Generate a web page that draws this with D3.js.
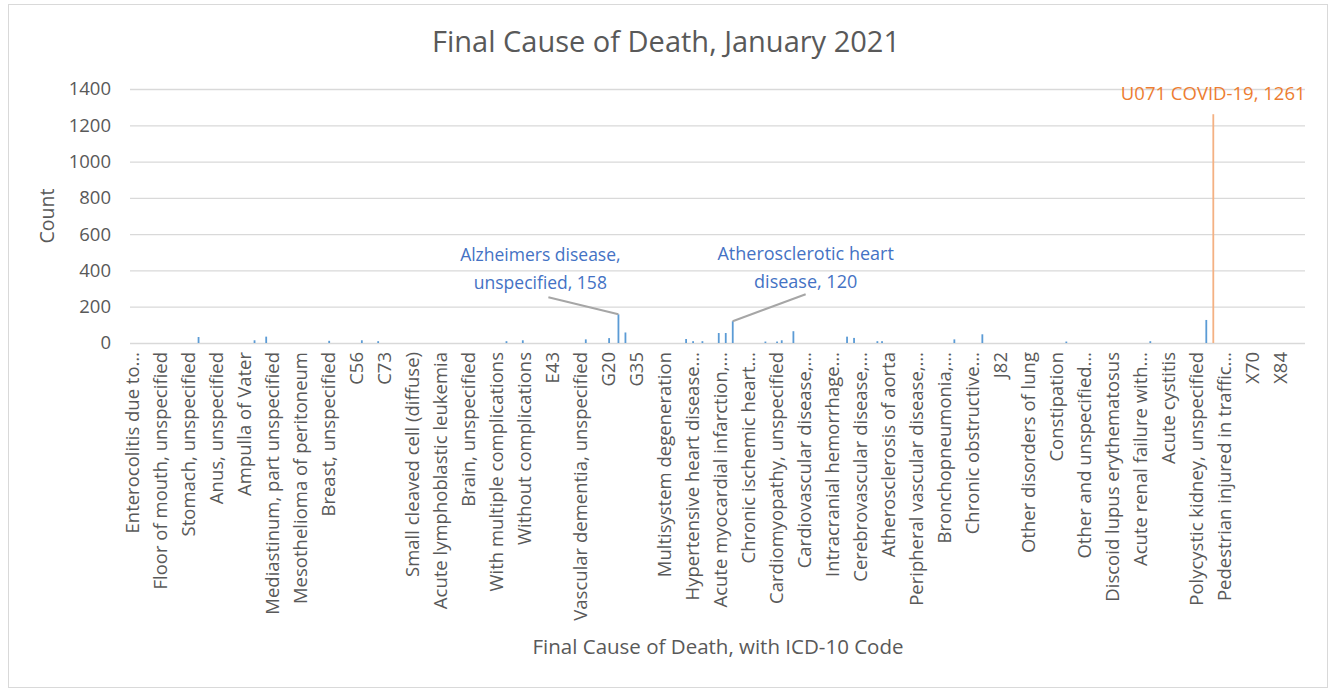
<!DOCTYPE html>
<html>
<head>
<meta charset="utf-8">
<script src="https://cdn.jsdelivr.net/npm/d3@7"></script>
<style>
  body { margin: 0; background: #fff; }
  text { font-family: "Open Sans", "Noto Sans", sans-serif; fill: #595959; }
</style>
</head>
<body>
<div id="chart"></div>
<script>
// Category axis: Excel shows only every 12th label
const categoryCount = 504;
const labelEvery = 12;
const tickLabels = [
  "Enterocolitis due to…", "Floor of mouth, unspecified", "Stomach, unspecified",
  "Anus, unspecified", "Ampulla of Vater", "Mediastinum, part unspecified",
  "Mesothelioma of peritoneum", "Breast, unspecified", "C56", "C73",
  "Small cleaved cell (diffuse)", "Acute lymphoblastic leukemia", "Brain, unspecified",
  "With multiple complications", "Without complications", "E43",
  "Vascular dementia, unspecified", "G20", "G35", "Multisystem degeneration",
  "Hypertensive heart disease…", "Acute myocardial infarction,…", "Chronic ischemic heart…",
  "Cardiomyopathy, unspecified", "Cardiovascular disease,…", "Intracranial hemorrhage…",
  "Cerebrovascular disease,…", "Atherosclerosis of aorta", "Peripheral vascular disease,…",
  "Bronchopneumonia,…", "Chronic obstructive…", "J82", "Other disorders of lung",
  "Constipation", "Other and unspecified…", "Discoid lupus erythematosus",
  "Acute renal failure with…", "Acute cystitis", "Polycystic kidney, unspecified",
  "Pedestrian injured in traffic…", "X70", "X84"
];

// Visible (non-negligible) counts: category index and count
const barIndex = [29, 53, 58, 85, 99, 106, 161, 168, 195, 205, 209, 212, 238, 241, 245,
  252, 255, 258, 272, 277, 279, 284, 307, 310, 320, 322, 353, 365, 401, 437, 461, 464];
const barCount = [33, 15, 35, 12, 15, 10, 10, 15, 20, 27, 158, 58, 22, 10, 10,
  55, 55, 120, 8, 8, 15, 65, 35, 28, 10, 10, 20, 48, 8, 10, 127, 1261];

const yTicks = [0, 200, 400, 600, 800, 1000, 1200, 1400];

// Annotated bars
const annotations = [
  { index: 209, lines: ["Alzheimers disease,", "unspecified, 158"] },
  { index: 258, lines: ["Atherosclerotic heart", "disease, 120"] },
  { index: 464, lines: ["U071 COVID-19, 1261"] }
];

const width = 1335, height = 692;
const margin = {top: 89, right: 30, bottom: 349, left: 130};
const plotW = width - margin.left - margin.right;
const plotH = height - margin.top - margin.bottom;

const svg = d3.select("#chart").append("svg")
  .attr("width", width)
  .attr("height", height);

svg.append("rect")
  .attr("x", 8.5).attr("y", 4.5)
  .attr("width", 1319).attr("height", 683)
  .attr("fill", "#fff")
  .attr("stroke", "#D9D9D9");

const g = svg.append("g").attr("transform", `translate(${margin.left},${margin.top})`);

const x = d3.scaleBand()
  .domain(d3.range(categoryCount))
  .range([0, plotW])
  .paddingInner(0.3);

const y = d3.scaleLinear().domain([0, 1400]).range([plotH, 0]);

// gridlines
g.selectAll(".grid")
  .data(yTicks)
  .join("line")
  .attr("x1", 0).attr("x2", plotW)
  .attr("y1", d => y(d) + 0.5).attr("y2", d => y(d) + 0.5)
  .attr("stroke", "#D9D9D9")
  .attr("stroke-width", 1.3);

// y tick labels
g.selectAll(".ytick")
  .data(yTicks)
  .join("text")
  .attr("x", -19)
  .attr("y", d => y(d))
  .attr("dy", "0.35em")
  .attr("text-anchor", "end")
  .style("font-size", "18.5px")
  .text(d => d);

// bars
const bars = barIndex.map((idx, i) => ({ idx, value: barCount[i] }));
g.selectAll(".bar")
  .data(bars)
  .join("rect")
  .attr("x", d => x(d.idx))
  .attr("width", Math.max(1.8, x.bandwidth()))
  .attr("y", d => y(d.value))
  .attr("height", d => plotH - y(d.value))
  .attr("fill", d => d.value > 1000 ? "#F4B183" : "#5B9BD5");

// x labels
g.selectAll(".xlabel")
  .data(tickLabels)
  .join("text")
  .attr("transform", (d, i) => `translate(${x(i * labelEvery) + x.bandwidth() / 2 + 2},${plotH + 9}) rotate(-90)`)
  .attr("dy", "0.35em")
  .attr("text-anchor", "end")
  .style("font-size", "18.5px")
  .text(d => d);

// annotations
const ann = annotations.map(a => ({ ...a, value: barCount[barIndex.indexOf(a.index)] }));
const cx = i => x(i) + x.bandwidth() / 2;

// Alzheimers
const a0 = ann[0];
g.append("line")
  .attr("x1", cx(a0.index)).attr("y1", y(a0.value))
  .attr("x2", cx(a0.index) - 70).attr("y2", y(a0.value) - 17)
  .attr("stroke", "#A6A6A6").attr("stroke-width", 2);
g.selectAll(".a0")
  .data(a0.lines)
  .join("text")
  .attr("x", cx(a0.index) - 78)
  .attr("y", (d, i) => y(a0.value) - 59 + i * 28)
  .attr("dy", "0.35em")
  .attr("text-anchor", "middle")
  .style("font-size", "17.5px")
  .style("fill", "#4472C4")
  .text(d => d);

// Atherosclerotic
const a1 = ann[1];
g.append("line")
  .attr("x1", cx(a1.index)).attr("y1", y(a1.value))
  .attr("x2", cx(a1.index) + 73).attr("y2", y(a1.value) - 27)
  .attr("stroke", "#A6A6A6").attr("stroke-width", 2);
g.selectAll(".a1")
  .data(a1.lines)
  .join("text")
  .attr("x", cx(a1.index) + 73)
  .attr("y", (d, i) => y(a1.value) - 68 + i * 28)
  .attr("dy", "0.35em")
  .attr("text-anchor", "middle")
  .style("font-size", "18px")
  .style("fill", "#4472C4")
  .text(d => d);

// COVID
const a2 = ann[2];
g.append("text")
  .attr("x", cx(a2.index))
  .attr("y", y(a2.value) - 21)
  .attr("dy", "0.35em")
  .attr("text-anchor", "middle")
  .style("font-size", "18.5px")
  .style("fill", "#ED7D31")
  .text(a2.lines[0]);

// titles
svg.append("text")
  .attr("x", 666).attr("y", 42)
  .attr("dy", "0.35em")
  .attr("text-anchor", "middle")
  .style("font-size", "29px")
  .text("Final Cause of Death, January 2021");

svg.append("text")
  .attr("transform", "translate(47,216) rotate(-90)")
  .attr("dy", "0.35em")
  .attr("text-anchor", "middle")
  .style("font-size", "19.5px")
  .text("Count");

svg.append("text")
  .attr("x", 718).attr("y", 647)
  .attr("dy", "0.35em")
  .attr("text-anchor", "middle")
  .style("font-size", "20.5px")
  .text("Final Cause of Death, with ICD-10 Code");
</script>
</body>
</html>
